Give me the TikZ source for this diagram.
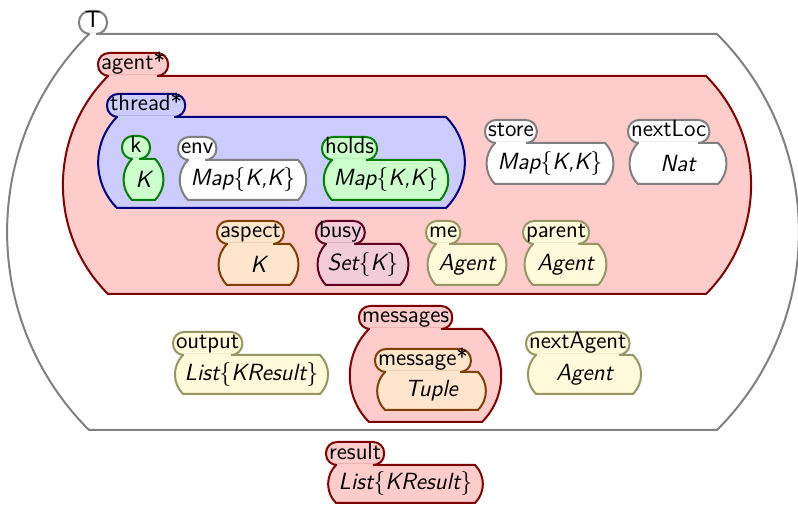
\documentclass[tikz,border=0pt]{standalone}
\definecolor{kolived}{RGB}{150,150,100}
\definecolor{kolivel}{RGB}{255,250,218}
\newcommand{\kcell}[7]{%
  \path[cellbody,#3] (#4,-#6) coordinate (#1-nw) -- (#5,-#6) to[out=-45,in=45] (#5,-#7)
    -- (#4,-#7) to[out=135,in=225] cycle;
  \node[celllabel,#3] (#1) at ({#4-10},-#6) {#2};
  \fill[#3,draw=none] ([xshift=5.5pt,yshift=-0.7pt]#1.south west) rectangle ([xshift=-5.5pt,yshift=0.7pt]#1.south east);
}
\newcommand{\kleaf}[8]{%
  \kcell{#1}{#2}{#3}{#4}{#5}{#6}{#7}
  \node[cellval] (#1-val) at ({(#4+#5)/2},{-(#6+#7)/2}) {#8};
}
\begin{document}
\begin{tikzpicture}[x=0.5pt,y=0.5pt,line width=1pt,
  font=\fontsize{11.7}{14}\selectfont\sffamily,
  cellbody/.style={line join=miter},
  celllabel/.style={rectangle,rounded corners=5.5pt,anchor=south west,outer sep=0pt,
    inner xsep=1.5pt,inner ysep=0.5pt,text height=8pt,text depth=2.5pt,minimum width=14pt},
  cellval/.style={font=\fontsize{11.7}{14}\selectfont\sffamily\itshape,inner sep=0pt},
  kgray/.style={draw=black!50,fill=white},
  kred/.style={draw=red!50!black,fill=red!20},
  kblue/.style={draw=blue!50!black,fill=blue!20},
  kgreen/.style={draw=green!50!black,fill=green!20},
  korange/.style={draw=orange!50!black,fill=orange!20},
  kpurple/.style={draw=purple!50!black,fill=purple!20},
  kolive/.style={draw=kolived,fill=kolivel}]

  \useasboundingbox (0,0) rectangle (798,-507);

  \kcell{T}{T}{kgray}{89}{717}{34}{430}
  \kcell{agent}{agent*}{kred}{108}{706}{76}{294}
  \kcell{thread}{thread*}{kblue}{117}{446}{117}{208}
  \kleaf{k}{k}{kgreen}{132}{155}{159}{200}{K}
  \kleaf{env}{env}{kgray}{188}{298}{160}{200}{Map$\{$K,K$\}$}
  \kleaf{holds}{holds}{kgreen}{332}{440}{160}{200}{Map$\{$K,K$\}$}
  \kleaf{store}{store}{kgray}{495}{605}{143}{184}{Map$\{$K,K$\}$}
  \kleaf{nextLoc}{nextLoc}{kgray}{638}{718}{143}{184}{Nat}
  \kleaf{aspect}{aspect}{korange}{227}{290}{244}{285}{K}
  \kleaf{busy}{busy}{kpurple}{326}{400}{244}{285}{Set$\{$K$\}$}
  \kleaf{me}{me}{kolive}{436}{498}{244}{285}{Agent}
  \kleaf{parent}{parent}{kolive}{533}{598}{244}{285}{Agent}
  \kleaf{output}{output}{kolive}{183}{320}{355}{394}{List$\{$KResult$\}$}
  \kcell{messages}{messages}{kred}{369}{482}{329}{422}
  \kleaf{message}{message*}{korange}{385}{478}{372}{410}{Tuple}
  \kleaf{nextAgent}{nextAgent}{kolive}{536}{633}{355}{394}{Agent}
  \kleaf{result}{result}{kred}{336}{475}{465}{503}{List$\{$KResult$\}$}
\end{tikzpicture}
\end{document}
